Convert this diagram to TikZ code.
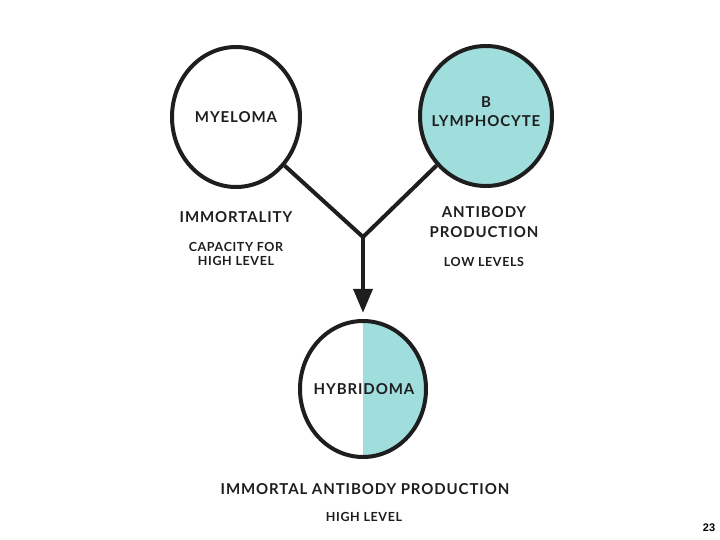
\documentclass[tikz,border=0pt]{standalone}
\usepackage{fontspec}
\setmainfont{Lato}
\newfontfamily\lblfont{Lato}[LetterSpace=6]
\newfontfamily\subfont{Lato}[LetterSpace=5]
\newfontfamily\numfont{Liberation Sans}
\usetikzlibrary{shapes.geometric,arrows.meta}
\definecolor{teal1}{RGB}{160,222,222}
\definecolor{ink}{RGB}{30,30,30}
\begin{document}
\begin{tikzpicture}[x=1pt,y=-1pt,
  lbl/.style={font=\lblfont\bfseries\fontsize{15}{19}\selectfont,text=ink,align=center},
  sub/.style={font=\subfont\bfseries\fontsize{12.5}{14}\selectfont,text=ink,align=center},
  conn/.style={draw=ink,line width=4pt}]
\useasboundingbox (0,0) rectangle (720,540);
\fill[white] (0,0) rectangle (720,540);
% circles
\node[ellipse,draw=ink,line width=4pt,minimum width=128pt,minimum height=140pt,inner sep=0pt] (mye) at (236,117) {};
\node[ellipse,draw=ink,fill=teal1,line width=4pt,minimum width=132pt,minimum height=140pt,inner sep=0pt] (blym) at (486,116) {};
\node[ellipse,minimum width=126pt,minimum height=136pt,inner sep=0pt] (hyb) at (363,389) {};
\begin{scope}
\clip (363,389) ellipse [x radius=63, y radius=68];
\fill[teal1] (363,300) rectangle (440,470);
\end{scope}
\draw[ink,line width=4pt] (363,389) ellipse [x radius=63, y radius=68];
% texts
\node[lbl] at (mye) {MYELOMA};
\node[lbl] at (486,112) {B\\LYMPHOCYTE};
\node[lbl] at (364,389) {HYBRIDOMA};
\node[lbl] (imm) at (236,217) {IMMORTALITY};
\node[sub] (cap) at (236,254) {CAPACITY FOR\\HIGH LEVEL};
\node[lbl,font=\lblfont\bfseries\fontsize{15}{20}\selectfont] (ab) at (484,222) {ANTIBODY\\PRODUCTION};
\node[sub] (low) at (484,262) {LOW LEVELS};
\node[lbl] (iap) at (365,489) {IMMORTAL ANTIBODY PRODUCTION};
\node[sub] (hl) at (364,517) {HIGH LEVEL};
\node[font=\numfont\bfseries\fontsize{11}{13}\selectfont] (pg) at (709,528) {23};
% connectors
\coordinate (j) at (363,237);
\draw[conn] (mye.-45) -- (j);
\draw[conn] (blym.-135) -- (j);
\draw[conn,shorten >=8pt,-{Triangle[length=24pt,width=19pt]}] (j) -- (hyb.north);
\end{tikzpicture}
\end{document}
